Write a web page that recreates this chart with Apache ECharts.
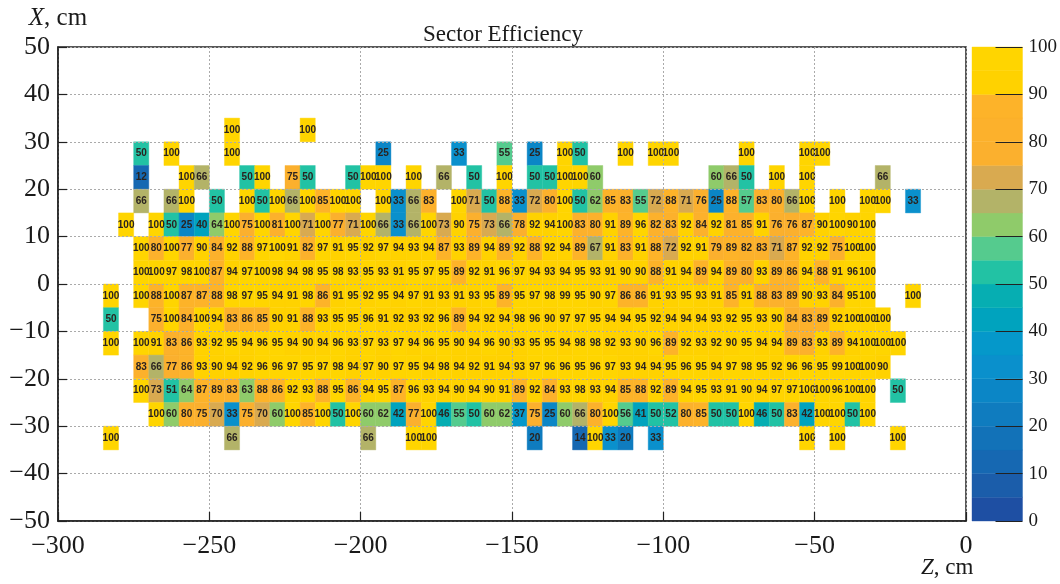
<!DOCTYPE html>
<html>
<head>
<meta charset="utf-8">
<style>html,body{margin:0;padding:0;background:#fff}#c{width:1060px;height:584px}</style>
<script src="https://cdn.jsdelivr.net/npm/echarts@6/dist/echarts.min.js"></script>
</head>
<body>
<div id="c"></div>
<script>
const _ = null;
const zStart = -300, binSize = 5;
const rowTops = [35, 30, 25, 20, 15, 10, 5, 0, -5, -10, -15, -20, -25, -30];
const row35 = [_,_,_,_,_,_,_,_,_,_, _,100,_,_,_,_,100];
const row30 = [_,_,_,_,_,50,_,100,_,_, _,100,_,_,_,_,_,_,_,_, _,25,_,_,_,_,33,_,_,55, _,25,_,100,50,_,_,100,_,100, 100,_,_,_,_,100,_,_,_,100, 100];
const row25 = [_,_,_,_,_,12,_,_,100,66, _,_,50,100,_,75,50,_,_,50, 100,100,_,100,_,66,_,50,_,100, _,50,50,100,100,60,_,_,_,_, _,_,_,60,66,50,_,100,_,100, _,_,_,_,66];
const row20 = [_,_,_,_,_,66,_,66,100,_, 50,_,100,50,100,66,100,85,100,100, _,100,33,66,83,_,100,71,50,88, 33,72,80,100,50,62,85,83,55,72, 88,71,76,25,88,57,83,80,66,100, _,100,_,100,100,_,33];
const row15 = [_,_,_,_,100,_,100,50,25,40, 64,100,75,100,81,100,71,100,77,71, 100,66,33,66,100,73,90,75,73,66, 78,92,94,100,83,80,91,89,96,82, 83,92,84,92,81,85,91,76,76,87, 90,100,90,100];
const row10 = [_,_,_,_,_,100,80,100,77,90, 84,92,88,97,100,91,82,97,91,95, 92,97,94,93,94,87,93,89,94,89, 92,88,92,94,89,67,91,83,91,88, 72,92,91,79,89,82,83,71,87,92, 92,75,100,100];
const row5 = [_,_,_,_,_,100,100,97,98,100, 87,94,97,100,98,94,98,95,98,93, 95,93,91,95,97,95,89,92,91,96, 97,94,93,94,95,93,91,90,90,88, 91,94,89,94,89,80,93,89,86,94, 88,91,96,100];
const row0 = [_,_,_,100,_,100,88,100,87,87, 88,98,97,95,94,91,98,86,91,95, 92,95,94,97,91,93,91,93,95,89, 95,97,98,99,95,90,97,86,86,91, 93,95,93,91,85,91,88,83,89,90, 93,84,95,100,_,_,100];
const rowM5 = [_,_,_,50,_,_,75,100,84,100, 94,83,86,85,90,91,88,93,95,95, 96,91,92,93,92,96,89,94,92,94, 98,96,90,97,97,95,94,94,95,92, 94,94,94,93,92,95,93,90,84,83, 89,92,100,100,100];
const rowM10 = [_,_,_,100,_,100,91,83,86,93, 92,95,94,96,95,94,90,94,96,93, 97,93,97,94,96,95,90,94,96,90, 93,95,95,94,98,98,92,93,90,96, 89,92,93,92,90,95,94,94,89,83, 93,89,94,100,100,100];
const rowM15 = [_,_,_,_,_,83,66,77,86,93, 90,94,92,96,96,97,95,97,98,94, 97,90,97,95,94,98,94,92,91,94, 93,97,96,96,95,96,97,93,94,94, 95,96,95,94,97,98,95,92,96,96, 95,99,100,100,90];
const rowM20 = [_,_,_,_,_,100,73,51,64,87, 89,83,63,88,86,92,93,88,95,86, 94,95,87,96,93,94,90,94,90,91, 89,92,84,93,98,93,94,85,88,92, 89,94,95,93,91,90,94,97,97,100, 100,96,100,100,_,50];
const rowM25 = [_,_,_,_,_,_,100,60,80,75, 70,33,75,70,60,100,85,100,50,100, 60,62,42,77,100,46,55,50,60,62, 37,75,25,60,66,80,100,56,41,50, 52,80,85,50,50,100,46,50,83,42, 100,100,50,100];
const rowM30 = [_,_,_,100,_,_,_,_,_,_, _,66,_,_,_,_,_,_,_,_, 66,_,_,100,100,_,_,_,_,_, _,20,_,_,14,100,33,20,_,33, _,_,_,_,_,_,_,_,_,100, _,100,_,_,_,100];
const rows = [row35,row30,row25,row20,row15,row10,row5,row0,rowM5,rowM10,rowM15,rowM20,rowM25,rowM30];
const bandColors = ['#1E4FA3','#1B5DAA','#1668B2','#1272B8','#0F7CBF','#0B86C6','#0A90CC','#0598CA','#00A3BE','#06AEB2',
  '#22C2A4','#55CB8E','#8FCB6A','#B3B368','#D9AA50','#FBB02E','#FCB12C','#FDB329','#FFD200','#FFD500'];

function colorOf(v){ return bandColors[Math.min(bandColors.length-1, Math.floor(v/binSize))]; }

const cells = [];
rows.forEach((r,i)=>r.forEach((v,j)=>{ if(v!==null) cells.push([zStart+j*binSize, rowTops[i], v]); }));
const bands = bandColors.map((c,i)=>[0, i*binSize, (i+1)*binSize]);

const serif = '"Liberation Serif","Times New Roman",serif';
const ink = '#1a1a1a';
const minus = v => String(v).replace('-','\u2212');
const chart = echarts.init(document.getElementById('c'), null, {renderer:'canvas'});
chart.setOption({
  animation:false,
  backgroundColor:'#fff',
  title:{text:'Sector Efficiency', left:498, top:18, textAlign:'center',
    textStyle:{fontFamily:serif,fontWeight:'normal',fontSize:23,color:ink}},
  grid:[
    {left:58, right:94, top:47, height:474, show:true, borderColor:'#222', borderWidth:1.5, backgroundColor:'#fff', containLabel:false},
    {left:972, width:52, top:47, height:474, show:false}
  ],
  xAxis:[
    {gridIndex:0,type:'value',min:-300,max:0,interval:50,z:3,
     axisLine:{show:true,onZero:false,lineStyle:{color:'#222',width:1.5}},
     axisTick:{show:true,inside:true,length:9,lineStyle:{color:'#222',width:1.2}},
     splitLine:{show:true,lineStyle:{color:'#aaa',type:[2,2],width:1}},
     axisLabel:{fontFamily:serif,fontSize:26,color:ink,margin:12,formatter:minus,hideOverlap:false,showMinLabel:true,showMaxLabel:true},
     name:'{i|Z}, cm',nameLocation:'end',nameGap:-45,nameMoveOverlap:false,
     nameTextStyle:{fontFamily:serif,fontSize:23,color:ink,verticalAlign:'top',padding:[35,0,0,0],
       rich:{i:{fontFamily:serif,fontSize:23,fontStyle:'italic',color:ink}}}},
    {gridIndex:1,type:'value',min:0,max:1,show:false}
  ],
  yAxis:[
    {gridIndex:0,type:'value',min:-50,max:50,interval:10,z:3,
     axisLine:{show:true,onZero:false,lineStyle:{color:'#222',width:1.5}},
     axisTick:{show:true,inside:true,length:9,lineStyle:{color:'#222',width:1.2}},
     splitLine:{show:true,lineStyle:{color:'#aaa',type:[2,2],width:1}},
     axisLabel:{fontFamily:serif,fontSize:26,color:ink,margin:8,formatter:minus,showMinLabel:true,showMaxLabel:true},
     name:'{i|X}, cm',nameLocation:'end',nameGap:16,nameMoveOverlap:false,
     nameTextStyle:{fontFamily:serif,fontSize:25,color:ink,align:'center',
       rich:{i:{fontFamily:serif,fontSize:25,fontStyle:'italic',color:ink}}}},
    {gridIndex:1,type:'value',min:0,max:100,interval:10,position:'right',z:3,
     axisLine:{show:false,onZero:false},
     axisTick:{show:true,inside:true,length:27,lineStyle:{color:'#222',width:1}},
     splitLine:{show:false},
     axisLabel:{fontFamily:serif,fontSize:19,color:ink,margin:6,showMinLabel:true,showMaxLabel:true}}
  ],
  series:[
    {type:'custom',xAxisIndex:0,yAxisIndex:0,data:cells,clip:true,encode:{x:0,y:1},silent:true,
     renderItem:(p,api)=>{
       const z=api.value(0),x=api.value(1),v=api.value(2);
       const a=api.coord([z,x]), b=api.coord([z+binSize,x-binSize]);
       return {type:'rect',shape:{x:a[0],y:a[1],width:b[0]-a[0],height:b[1]-a[1]},
         style:{fill:colorOf(v),stroke:colorOf(v),lineWidth:0.4},
         textContent:{type:'text',style:{text:String(v),fill:'#2a2320',font:'bold 10px "Liberation Sans",Arial,sans-serif'}},
         textConfig:{position:'inside'}};
     }},
    {type:'custom',xAxisIndex:1,yAxisIndex:1,data:bands,encode:{y:[1,2]},silent:true,
     renderItem:(p,api)=>{
       const lo=api.value(1),hi=api.value(2);
       const a=api.coord([0,hi]), b=api.coord([1,lo]);
       const c=bandColors[p.dataIndex];
       return {type:'rect',shape:{x:a[0],y:a[1],width:b[0]-a[0],height:b[1]-a[1]},
         style:{fill:c,stroke:c,lineWidth:0.4}};
     }}
  ]
});
</script>
</body>
</html>
